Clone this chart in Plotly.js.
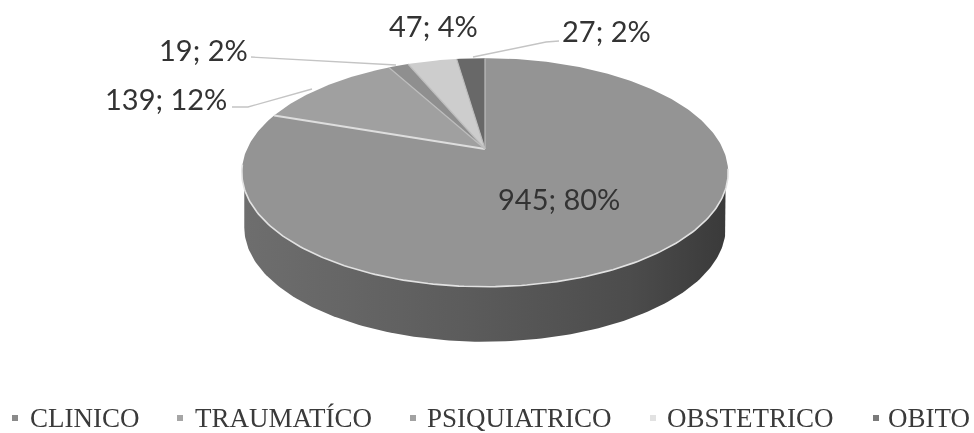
<!DOCTYPE html>
<html>
<head>
<meta charset="utf-8">
<script src="https://cdn.plot.ly/plotly-3.0.1.min.js"></script>
<style>
html,body{margin:0;padding:0;background:#fff;overflow:hidden}
#chart{width:974px;height:433px;filter:blur(0.55px)}
</style>
</head>
<body>
<div id="chart"></div>
<script>
const categories = ["CLINICO","TRAUMATÍCO","PSIQUIATRICO","OBSTETRICO","OBITO"];
const values = [945,139,19,47,27];
const sliceColors = ["#949494","#a0a0a0","#8f8f8f","#cdcdcd","#686868"];
const legendColors = ["#8a8a8a","#a6a6a6","#a2a2a2","#e2e2e2","#7a7a7a"];
const labelX = [559,166,203,433,606];
const labelY = [198,98,49,25,30];
const legendMarkX = [15,180,413,653,876];
const legendTextX = [30,195,427,667,888];
const legendY = 418;

// perspective pie geometry, in the pixel units of the axes
const apexX=485, apexY=149, a=238, b=109.5, p=0.205, depth=55, step=1;
const total = values.reduce((s,v)=>s+v,0);
function rim(deg,scale,dy){
  const t=deg*Math.PI/180, u=Math.sin(t), v=Math.cos(t), w=1+p*v;
  return [apexX+(scale||1)*a*u/w, apexY-b*v/w+(dy||0)];
}
const traces=[];

// side wall
(function(){
  const xs=[],ys=[];
  for(let d=102;d<=258;d+=step){
    const q=rim(d,0.99,depth); xs.push(q[0]); ys.push(q[1]);
  }
  const first=rim(102,0.99,0), last=rim(258,0.99,0);
  xs.unshift(first[0]); ys.unshift(first[1]);
  xs.push(last[0]); ys.push(last[1]);
  traces.push({type:"scatter",mode:"lines",x:xs,y:ys,fill:"toself",showlegend:false,hoverinfo:"skip",
    line:{width:0,color:"rgba(0,0,0,0)"},
    fillgradient:{type:"horizontal",colorscale:[[0,"#6e6e6e"],[0.45,"#5c5c5c"],[0.8,"#4c4c4c"],[1,"#3a3a3a"]]}});
})();

// top surface slices
let cum=0;
const boundaries=[];
values.forEach((val,i)=>{
  const start=cum/total*360, end=(cum+val)/total*360;
  cum+=val;
  boundaries.push(end);
  const xs=[apexX],ys=[apexY];
  const n=Math.max(2,Math.ceil((end-start)/step));
  for(let k=0;k<=n;k++){
    const q=rim(start+(end-start)*k/n); xs.push(q[0]); ys.push(q[1]);
  }
  xs.push(apexX); ys.push(apexY);
  traces.push({type:"scatter",mode:"lines",x:xs,y:ys,fill:"toself",fillcolor:sliceColors[i],
    line:{width:0,color:"rgba(0,0,0,0)"},showlegend:false,hoverinfo:"skip"});
});

// slice separators
boundaries.forEach((deg,i)=>{
  const q=rim(deg);
  traces.push({type:"scatter",mode:"lines",x:[apexX,q[0]],y:[apexY,q[1]],
    line:{width:i===0?2.2:1.2,color:i===0?"#dedede":"#bdbdbd"},showlegend:false,hoverinfo:"skip"});
});

// bright front rim
(function(){
  const xs=[],ys=[];
  for(let d=100;d<=262;d+=step){const q=rim(d);xs.push(q[0]);ys.push(q[1]);}
  traces.push({type:"scatter",mode:"lines",x:xs,y:ys,line:{width:1.6,color:"#e2e2e2"},showlegend:false,hoverinfo:"skip"});
})();

// leader lines
const leaderX=[[232,248,312],[251,396],[559,546,473]];
const leaderY=[[107,107,89],[57,65],[41,42,57]];
leaderX.forEach((lx,i)=>traces.push({type:"scatter",mode:"lines",x:lx,y:leaderY[i],
  line:{width:1.3,color:"#c4c4c4"},showlegend:false,hoverinfo:"skip"}));

// legend markers
categories.forEach((c,i)=>traces.push({
  type:"scatter",mode:"markers",name:c,x:[legendMarkX[i]],y:[legendY],showlegend:false,
  marker:{symbol:"square",size:6,color:legendColors[i]},hoverinfo:"skip"
}));

const annotations=values.map((v,i)=>({
  x:labelX[i],y:labelY[i],xref:"x",yref:"y",xanchor:"center",yanchor:"middle",showarrow:false,
  text:v+"; "+Math.round(v/total*100)+"%",
  font:{family:"Lato, sans-serif",size:29,color:"#333333"}
})).concat(categories.map((c,i)=>({
  x:legendTextX[i],y:legendY,xref:"x",yref:"y",xanchor:"left",yanchor:"middle",showarrow:false,
  xshift:-1,text:c,borderpad:0,
  font:{family:"Liberation Serif, serif",size:27,color:"#3a3a3a"}
})));

Plotly.newPlot("chart",traces,{
  width:974,height:433,margin:{l:0,r:0,t:0,b:0},
  paper_bgcolor:"#ffffff",plot_bgcolor:"#ffffff",
  xaxis:{range:[0,974],visible:false,fixedrange:true},
  yaxis:{range:[433,0],visible:false,fixedrange:true},
  annotations,showlegend:false
},{displayModeBar:false,staticPlot:true});
</script>
</body>
</html>
